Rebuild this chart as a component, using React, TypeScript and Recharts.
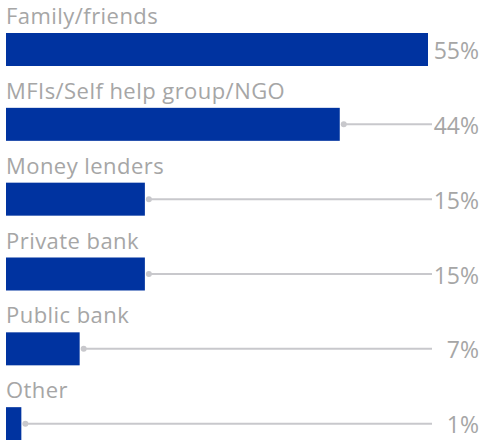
import React from "react";
import { Bar, BarChart, XAxis, YAxis } from "recharts";

const categories = [
  "Family/friends",
  "MFIs/Self help group/NGO",
  "Money lenders",
  "Private bank",
  "Public bank",
  "Other",
];

// bar lengths as drawn in the picture (they do not line up exactly with the printed labels)
const values = [55, 43.5, 18.1, 18.1, 9.6, 2];
const valueLabels = ["55%", "44%", "15%", "15%", "7%", "1%"];

const BAR_COLOR = "#0033a0";
const TEXT_COLOR = "#a6a6a6";
const LINE_COLOR = "#c8c8cc";
const FONT = "'Open Sans', sans-serif";

const data = categories.map((name, i) => ({ name, value: values[i], label: valueLabels[i] }));

function RowShape(props: any) {
  const { x, y, width, height, payload, background } = props;
  const barEnd = x + width;
  const lineEnd = background.x + background.width + 4;
  const cy = y + height / 2;
  const showLine = barEnd + 4 < lineEnd - 2;

  return (
    <g>
      <text x={x} y={y - 9} fill={TEXT_COLOR} fontSize={22} letterSpacing={0.45} fontFamily={FONT}>
        {payload.name}
      </text>
      <rect x={x} y={y} width={width} height={height} fill={BAR_COLOR} />
      {showLine && (
        <>
          <line x1={barEnd + 4} y1={cy} x2={lineEnd} y2={cy} stroke={LINE_COLOR} strokeWidth={2} />
          <circle cx={barEnd + 4} cy={cy} r={3} fill={LINE_COLOR} />
        </>
      )}
      <text x={479} y={cy + 9.5} fill={TEXT_COLOR} fontSize={23} fontFamily={FONT} textAnchor="end">
        {payload.label}
      </text>
    </g>
  );
}

export default function App() {
  return (
    <div style={{ position: "absolute", left: 0, top: 0, width: 482, height: 440, overflow: "hidden", background: "#fff" }}>
      <BarChart
        width={482}
        height={461}
        data={data}
        layout="vertical"
        margin={{ top: 12, right: 54, left: 6, bottom: 0 }}
        barCategoryGap={0}
      >
        <XAxis type="number" domain={[0, 55]} hide />
        <YAxis type="category" dataKey="name" hide />
        <Bar dataKey="value" barSize={33} shape={<RowShape />} isAnimationActive={false} />
      </BarChart>
    </div>
  );
}
